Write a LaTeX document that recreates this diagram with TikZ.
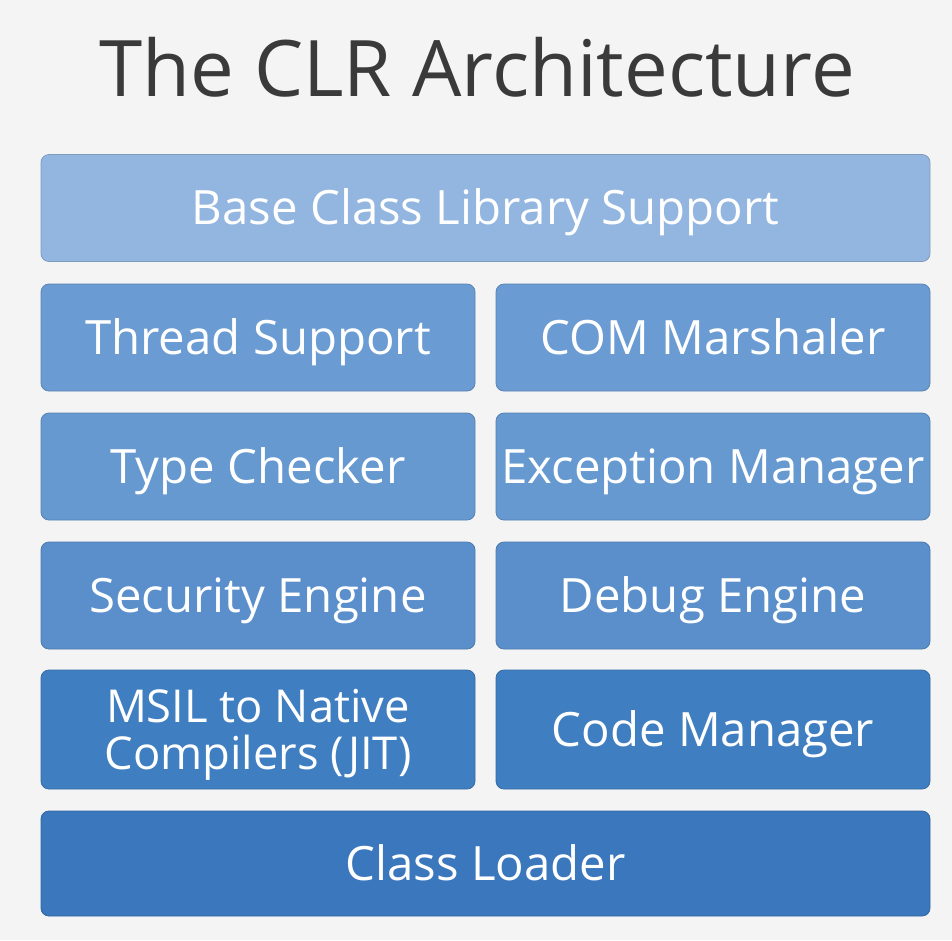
\documentclass[tikz,border=0pt]{standalone}
\usepackage{fontspec}
\setmainfont{Open Sans}
\usepackage{tikz}

\definecolor{bgback}{HTML}{F4F4F4}
\definecolor{titlegray}{HTML}{3A3A3A}
\definecolor{layerA}{HTML}{93B6E0}
\definecolor{layerB}{HTML}{6A9BD3}
\definecolor{layerC}{HTML}{6699D0}
\definecolor{layerD}{HTML}{5A8FCB}
\definecolor{layerE}{HTML}{3F7EC1}
\definecolor{layerF}{HTML}{3A77BD}

\tikzset{
  layer/.style={draw=#1!85!black, line width=0.6pt, fill=#1, rounded corners=6pt,
    text=white, inner sep=0pt, align=center, text height=25.3pt, text depth=0pt,
    font=\fontsize{35.5}{40}\selectfont},
  halfbox/.style={minimum width=325.5pt, minimum height=80.25pt},
  fullbox/.style={minimum width=666.75pt, minimum height=80.25pt}
}

\begin{document}
\begin{tikzpicture}[x=0.75pt,y=0.75pt,yscale=-1,xscale=1]
%set diagram to 952 x 940
\useasboundingbox[fill=bgback] (0,0) rectangle (952,940);

% Title
\draw (477,67) node [text=titlegray, font=\fontsize{58.5}{66}\selectfont] (title) {The CLR Architecture};

%Shape: Rectangle [top layer]
\draw (485.5,208) node [layer=layerA, fullbox] (bcl) {Base Class Library Support};

%Shape: Rectangle [row 2]
\draw (258,337.5) node [layer=layerB, halfbox] (thread) {Thread Support};
\draw (713,337.5) node [layer=layerB, halfbox] (com) {COM Marshaler};

%Shape: Rectangle [row 3]
\draw (258,466.5) node [layer=layerC, halfbox] (typecheck) {Type Checker};
\draw (713,466.5) node [layer=layerC, halfbox] (exception) {Exception Manager};

%Shape: Rectangle [row 4]
\draw (258,595.5) node [layer=layerD, halfbox] (security) {Security Engine};
\draw (713,595.5) node [layer=layerD, halfbox] (debug) {Debug Engine};

%Shape: Rectangle [row 5]
\draw (258,729.5) node [layer=layerE, halfbox, minimum height=89.25pt, text height={}, text depth=0pt, font=\fontsize{34}{35}\selectfont] (jit) {MSIL to Native\\Compilers (JIT)};
\draw (713,729.5) node [layer=layerE, halfbox, minimum height=89.25pt] (codemgr) {Code Manager};

%Shape: Rectangle [bottom layer]
\draw (485.5,863.5) node [layer=layerF, fullbox, minimum height=78.75pt] (loader) {Class Loader};

\end{tikzpicture}
\end{document}
